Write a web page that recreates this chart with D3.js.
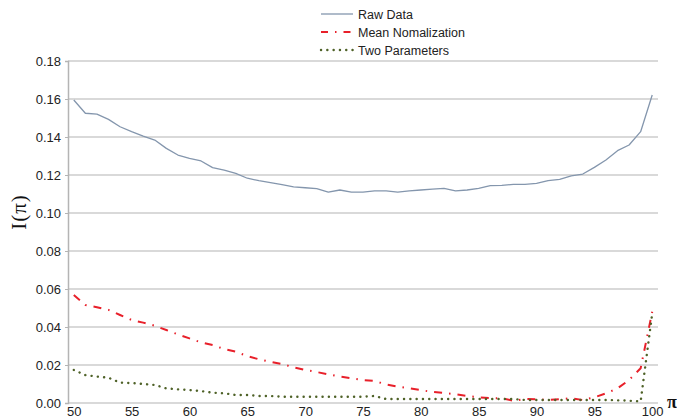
<!DOCTYPE html>
<html><head><meta charset="utf-8">
<script src="https://cdn.jsdelivr.net/npm/d3@7"></script>
<style>body{margin:0;background:#fff}svg{display:block}</style>
</head><body>
<svg id="c" width="677" height="420"></svg>
<script>
const categories = d3.range(50, 101);
const rawData = [0.1595,0.1525,0.152,0.1493,0.1454,0.1428,0.1405,0.1384,0.134,0.1305,
0.1288,0.1274,0.1239,0.1226,0.1209,0.1183,0.117,0.116,0.1149,0.1138,
0.1133,0.1128,0.111,0.1121,0.111,0.111,0.1116,0.1116,0.111,0.1116,
0.1121,0.1126,0.113,0.1116,0.1121,0.113,0.1144,0.1145,0.1151,0.1151,
0.1156,0.117,0.1177,0.1195,0.1205,0.124,0.1279,0.1328,0.1358,0.1428,0.1621];
const meanNorm = [0.0568,0.0516,0.0504,0.049,0.0463,0.0437,0.0423,0.0407,0.0384,0.0361,
0.034,0.0319,0.0305,0.0284,0.027,0.0247,0.023,0.0217,0.0205,0.0188,
0.0174,0.0163,0.0151,0.0139,0.013,0.0121,0.0116,0.0098,0.0086,0.0077,
0.0068,0.0058,0.0053,0.0046,0.0037,0.003,0.0026,0.0025,0.0012,0.0021,
0.002,0.0016,0.002,0.0025,0.0016,0.003,0.0051,0.0077,0.0121,0.0183,0.048];
const twoParams = [0.0174,0.0147,0.0139,0.0133,0.0107,0.0105,0.01,0.0095,0.0077,0.0072,
0.0068,0.0063,0.0054,0.0051,0.0042,0.0042,0.0037,0.0037,0.0033,0.0033,
0.0033,0.0033,0.0033,0.0033,0.0033,0.0033,0.0037,0.0021,0.0021,0.0021,
0.0021,0.0021,0.0021,0.0021,0.0021,0.0021,0.0021,0.0021,0.0021,0.0016,
0.0016,0.0016,0.0016,0.0016,0.0016,0.0016,0.0016,0.0014,0.0012,0.0008,0.047];
const yTicks = [0,0.02,0.04,0.06,0.08,0.10,0.12,0.14,0.16,0.18];
const xTickLabels = [50,55,60,65,70,75,80,85,90,95,100];
const seriesNames = ["Raw Data","Mean Nomalization","Two Parameters"];

const svg = d3.select("#c");
const L = 68, R = 658, T = 61, B = 403;
const x = d3.scalePoint().domain(categories).range([L, R]).padding(0.5);
const y = d3.scaleLinear().domain([0, 0.18]).range([B, T]);

// gridlines
svg.append("g").selectAll("line").data(yTicks).join("line")
  .attr("x1", L).attr("x2", R).attr("y1", d => y(d)).attr("y2", d => y(d))
  .attr("stroke", "#b4b4b4").attr("stroke-width", 1.2);

// y axis
const ya = svg.append("g").attr("transform", `translate(${L},0)`)
  .call(d3.axisLeft(y).tickValues(yTicks).tickFormat(d3.format(".2f")).tickSize(3).tickPadding(4));
ya.select(".domain").attr("stroke", "#b4b4b4").attr("stroke-width", 1.5);
ya.selectAll(".tick line").attr("stroke", "#b4b4b4");
ya.selectAll("text").attr("font-family", "Liberation Sans, Arial, sans-serif").attr("font-size", 13).attr("fill", "#222");

// x axis labels
const xa = svg.append("g").attr("transform", `translate(0,${B})`)
  .call(d3.axisBottom(x).tickValues(xTickLabels).tickSize(0).tickPadding(4));
xa.select(".domain").remove();
xa.selectAll("text").attr("font-family", "Liberation Sans, Arial, sans-serif").attr("font-size", 13).attr("fill", "#222");

// axis titles
svg.append("text").attr("x", 667).attr("y", 408).text("π")
  .attr("font-family", "Liberation Serif, Times New Roman, serif").attr("font-size", 18)
  .attr("font-weight", "bold").attr("fill", "#111");
svg.append("text").attr("transform", "translate(26,212) rotate(-90)").attr("text-anchor", "middle")
  .text("I(π)").attr("font-family", "Liberation Serif, Times New Roman, serif").attr("font-size", 21)
  .attr("letter-spacing", 1).attr("fill", "#111");

const styles = [
  {color: "#8496ad", width: 1.3, dash: null, cap: "butt"},
  {color: "#e8202a", width: 2, dash: "8,7,1.5,7", cap: "butt"},
  {color: "#4f6228", width: 2.4, dash: "0.1,6.2", cap: "round"}
];
const data = [rawData, meanNorm, twoParams];
const line = d3.line().x((d, i) => x(categories[i])).y(d => y(d));
data.forEach((s, k) => {
  const p = svg.append("path").datum(s).attr("d", line).attr("fill", "none")
    .attr("stroke", styles[k].color).attr("stroke-width", styles[k].width)
    .attr("stroke-linecap", styles[k].cap).attr("stroke-linejoin", "round");
  if (styles[k].dash) p.attr("stroke-dasharray", styles[k].dash);
});

// legend
const lg = svg.append("g");
seriesNames.forEach((n, k) => {
  const yy = 14 + k * 18;
  const ln = lg.append("line").attr("x1", 321).attr("x2", 353).attr("y1", yy).attr("y2", yy)
    .attr("stroke", styles[k].color).attr("stroke-width", styles[k].width)
    .attr("stroke-linecap", styles[k].cap);
  if (styles[k].dash) ln.attr("stroke-dasharray", k === 1 ? "7,7,1.5,7" : styles[k].dash);
  lg.append("text").attr("x", 358).attr("y", yy + 4.5).text(n)
    .attr("font-family", "Liberation Sans, Arial, sans-serif").attr("font-size", 12.5).attr("fill", "#222");
});
</script>
</body></html>
